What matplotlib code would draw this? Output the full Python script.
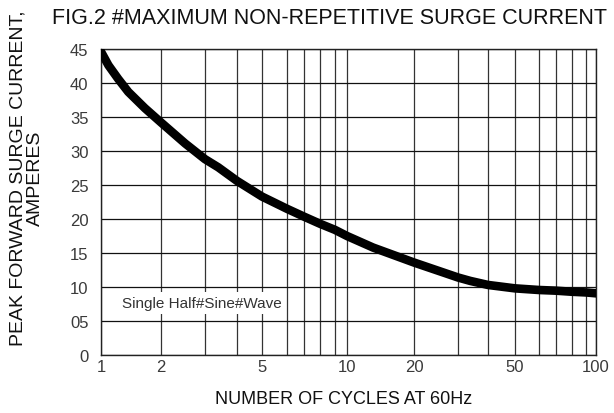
import numpy as np
import matplotlib
matplotlib.use("Agg")
import matplotlib.pyplot as plt
from matplotlib.ticker import FixedLocator, FixedFormatter, NullFormatter

# ---- data ----
cycles = [1, 1.09, 1.22, 1.37, 1.66, 2, 2.5, 3, 3.38, 4, 5, 6, 7, 8, 9, 10,
          13.1, 20, 30, 33.7, 40, 50, 60, 70, 80, 90, 100]
current = [44.6, 42.6, 40.6, 38.7, 36.3, 34.2, 31.1, 28.8, 27.6, 25.6, 23.3, 21.5,
           20.35, 19.3, 18.4, 17.5, 15.8, 13.6, 11.4, 10.9, 10.3, 9.8, 9.56, 9.46,
           9.3, 9.2, 9.07]
x_major = [1, 2, 5, 10, 20, 50, 100]
x_major_labels = ["1", "2", "5", "10", "20", "50", "100"]
x_minor = [3, 4, 6, 7, 8, 9, 30, 40, 60, 70, 80, 90]
y_ticks = [0, 5, 10, 15, 20, 25, 30, 35, 40, 45]
y_labels = ["0", "05", "10", "15", "20", "25", "30", "35", "40", "45"]

# The printed chart's log axis is hand-drawn (not exactly logarithmic);
# reproduce its grid spacing with a custom scale.
_grid_vals = np.array([1, 2, 3, 4, 5, 6, 7, 8, 9, 10, 20, 30, 40, 50, 60, 70, 80, 90, 100], float)
_grid_pos = np.array([0, 60, 104, 136, 161, 186, 203, 219, 234, 246,
                      313, 357, 387, 414, 438, 455, 471, 485, 495], float)
_grid_log = np.log10(_grid_vals)


def fwd(x):
    x = np.asarray(x, float)
    lx = np.log10(np.clip(x, 1e-6, None))
    return np.interp(lx, _grid_log, _grid_pos)


def inv(p):
    p = np.asarray(p, float)
    return 10 ** np.interp(p, _grid_pos, _grid_log)


plt.rcParams['font.family'] = ['Liberation Sans', 'DejaVu Sans']

fig = plt.figure(figsize=(6.14, 4.14), dpi=100)
ax = fig.add_axes([101 / 614, 1 - 356 / 414, 495 / 614, 306 / 414])
ax.set_xscale('function', functions=(fwd, inv))
ax.set_xlim(1, 100)
ax.set_ylim(0, 45)

ax.xaxis.set_major_locator(FixedLocator(x_major))
ax.xaxis.set_major_formatter(FixedFormatter(x_major_labels))
ax.xaxis.set_minor_locator(FixedLocator(x_minor))
ax.xaxis.set_minor_formatter(NullFormatter())
ax.set_yticks(y_ticks)
ax.set_yticklabels(y_labels)

ax.grid(True, which='both', axis='x', color='#333333', linewidth=0.9)
ax.grid(True, which='major', axis='y', color='#111111', linewidth=0.9)
ax.tick_params(which='both', length=0, labelsize=12, labelcolor='#3a3a3a')
ax.tick_params(axis='x', pad=3)
ax.tick_params(axis='y', pad=9)
for s in ax.spines.values():
    s.set_color('#222222')
    s.set_linewidth(1.0)

ax.plot(cycles, current, color='black', linewidth=6.2, solid_capstyle='round',
        solid_joinstyle='round', zorder=5)

ax.text(1.27, 7.7, "Single Half#Sine#Wave", fontsize=11, color='#333333',
        va='center', ha='left', zorder=6,
        bbox=dict(facecolor='white', edgecolor='none', pad=3))

fig.text(330 / 614, 1 - 18 / 414, "FIG.2 #MAXIMUM NON-REPETITIVE SURGE CURRENT",
         fontsize=15.5, ha='center', va='center', color='#111111')
fig.text(344 / 614, 1 - 400 / 414, "NUMBER OF CYCLES AT 60Hz", fontsize=13,
         ha='center', va='center', color='#111111')
fig.text(27 / 614, 1 - 178 / 414, "PEAK FORWARD SURGE CURRENT,\nAMPERES", fontsize=14,
         ha='center', va='center', rotation=90, color='#111111', linespacing=1.0)

fig.savefig("out.png", dpi=100)
